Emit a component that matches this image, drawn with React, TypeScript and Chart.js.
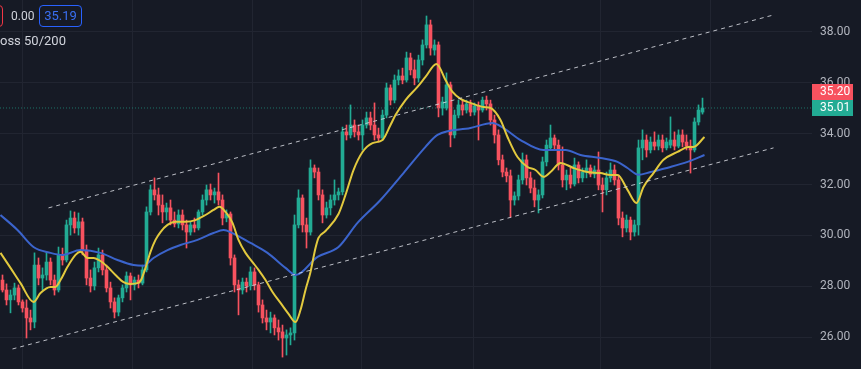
import React, { useEffect, useRef } from "react";
import { Chart, registerables } from "chart.js";

Chart.register(...registerables);

const opens = [
  28.24,27.85,27.46,27.65,27.93,27.38,27.14,26.75,26.59,28.83,
  28.32,28.44,28.95,28.24,27.85,29.23,29.03,30.41,30.68,30.29,
  30.53,29.42,28.32,28.01,28.72,29.23,28.64,27.93,27.38,26.98,
  27.54,27.93,28.40,28.05,28.24,28.12,28.64,30.92,31.79,31.59,
  31.19,30.92,31.08,30.60,30.45,30.80,30.41,30.13,30.41,30.29,
  30.92,31.39,31.79,31.59,31.71,31.39,30.68,30.84,29.11,28.05,
  27.85,28.16,28.01,28.56,28.05,27.26,26.75,26.59,26.75,26.36,
  26.20,25.96,26.08,26.16,30.41,31.47,30.41,30.13,32.65,32.49,
  31.59,30.80,31.08,31.39,31.59,31.71,34.07,33.95,34.34,34.07,
  33.95,34.34,34.62,34.34,33.95,33.83,34.73,35.80,35.32,36.11,
  36.27,36.11,36.98,36.51,36.19,36.90,37.49,38.28,37.29,37.49,
  35.01,35.01,35.92,33.95,34.73,35.13,34.93,35.17,34.85,35.09,
  34.93,35.32,35.17,34.54,33.95,32.97,32.49,32.34,31.39,31.55,
  32.18,32.97,32.26,31.86,31.39,31.59,32.89,33.44,33.83,33.55,
  32.77,32.18,32.37,32.02,32.77,32.26,32.49,32.65,32.41,32.57,
  31.98,31.79,32.26,32.57,32.18,30.68,30.29,30.60,30.13,30.41,
  33.44,33.75,33.36,33.67,33.51,33.75,33.44,33.55,33.75,33.51,
  33.95,33.67,33.51,33.36,34.46,34.85,
];

const highs = [
  28.44,28.09,27.85,28.12,28.05,27.46,27.46,27.06,29.31,29.11,
  28.72,29.35,29.11,28.44,29.54,29.50,30.60,30.96,30.92,30.88,
  30.68,29.62,28.64,28.95,29.50,29.42,28.83,28.16,27.54,27.65,
  28.05,28.56,28.52,28.36,28.44,28.83,31.12,31.98,32.26,31.86,
  31.59,31.27,31.39,30.92,31.00,31.00,30.60,30.53,30.68,31.00,
  31.59,31.98,32.02,31.86,32.45,31.59,31.00,30.92,29.23,28.24,
  28.32,28.32,28.76,28.72,28.16,27.46,27.06,26.98,26.87,26.67,
  26.47,26.28,26.36,30.80,31.79,31.59,30.68,32.97,32.77,32.65,
  31.79,31.31,31.59,32.18,31.86,34.26,34.34,35.13,34.54,34.34,
  34.54,34.85,34.85,35.21,34.22,34.93,35.99,35.92,36.31,36.51,
  36.58,37.21,37.17,36.90,37.09,37.69,38.63,38.47,37.69,37.61,
  35.44,36.39,36.03,34.93,35.32,35.32,35.32,35.32,35.21,35.25,
  35.44,35.48,35.32,34.73,34.15,33.16,32.65,32.57,31.71,32.37,
  33.24,33.16,32.49,32.18,31.79,33.08,33.75,34.34,33.95,33.75,
  33.48,32.57,32.65,33.04,32.89,32.65,32.97,32.77,32.73,33.28,
  32.26,32.49,32.85,32.77,32.37,30.92,30.80,30.72,30.60,33.75,
  34.15,33.95,33.87,34.07,33.95,33.95,33.83,34.66,34.07,34.15,
  34.15,33.95,33.75,34.62,35.13,35.40,
];

const lows = [
  27.77,27.26,26.95,27.46,27.26,26.98,25.96,26.28,26.36,28.05,
  27.85,28.24,28.05,27.65,27.77,28.83,28.95,30.01,30.09,30.01,
  29.23,28.05,27.77,27.85,28.56,28.44,27.77,27.14,26.75,26.83,
  27.38,27.77,27.46,27.85,27.93,28.05,28.56,30.80,31.39,30.80,
  30.49,30.60,30.41,30.33,30.29,30.21,29.50,30.01,30.13,30.21,
  30.80,31.19,31.39,31.27,31.19,30.41,30.53,28.83,27.77,26.87,
  27.69,27.77,27.85,27.85,26.98,26.55,26.28,26.16,26.08,25.88,
  25.21,25.29,25.69,25.88,30.29,30.13,29.50,30.01,32.26,31.39,
  30.49,30.68,30.80,31.19,31.39,31.59,33.75,33.83,33.87,33.75,
  33.36,34.22,34.15,33.75,33.67,33.75,34.62,35.13,35.21,35.92,
  35.96,36.03,36.31,35.92,36.03,36.70,37.37,37.09,37.09,34.66,
  34.73,34.93,33.48,33.83,34.62,34.73,34.81,34.70,34.73,33.75,
  34.85,34.93,34.34,33.63,32.77,32.30,32.10,30.72,31.19,31.39,
  32.02,31.98,31.67,31.12,30.88,31.47,32.73,33.36,33.36,32.57,
  31.90,31.79,31.86,31.94,32.06,32.10,32.26,32.30,32.26,31.79,
  30.92,31.59,32.10,31.98,30.41,29.94,30.13,29.82,29.97,30.01,
  32.97,33.08,33.24,33.36,33.36,33.28,33.36,33.44,33.36,33.44,
  33.48,33.36,32.45,33.28,34.34,34.77,
];

const closes = [
  27.85,27.46,27.65,27.93,27.38,27.14,26.75,26.59,28.83,28.32,
  28.44,28.95,28.24,27.85,29.23,29.03,30.41,30.68,30.29,30.53,
  29.42,28.32,28.01,28.72,29.23,28.64,27.93,27.38,26.98,27.54,
  27.93,28.40,28.05,28.24,28.12,28.64,30.92,31.79,31.59,31.19,
  30.92,31.08,30.60,30.45,30.80,30.41,30.13,30.41,30.29,30.92,
  31.39,31.79,31.59,31.71,31.39,30.68,30.84,29.11,28.05,27.85,
  28.16,28.01,28.56,28.05,27.26,26.75,26.59,26.75,26.36,26.20,
  25.96,26.08,26.16,30.41,31.47,30.41,30.13,32.65,32.49,31.59,
  30.80,31.08,31.39,31.59,31.71,34.07,33.95,34.34,34.07,33.95,
  34.34,34.62,34.34,33.95,33.83,34.73,35.80,35.32,36.11,36.27,
  36.11,36.98,36.51,36.19,36.90,37.49,38.28,37.37,37.49,35.01,
  35.25,35.92,33.95,34.73,35.13,34.93,35.17,34.85,35.09,34.93,
  35.32,35.17,34.54,33.95,32.97,32.49,32.34,31.39,31.55,32.18,
  32.97,32.26,31.86,31.39,31.59,32.89,33.55,33.83,33.55,32.77,
  32.18,32.37,32.02,32.77,32.26,32.49,32.65,32.41,32.57,31.98,
  31.79,32.26,32.57,32.18,30.68,30.29,30.60,30.13,30.41,33.44,
  33.75,33.36,33.67,33.51,33.75,33.44,33.67,33.75,33.51,33.95,
  33.67,33.51,33.36,34.46,34.93,35.01,
];

// Moving average 50 (yellow) sampled at bar positions
const ma50Index = [-0.5,2,4.5,7.75,9.5,12,13.25,14.5,16.25,18.25,19.5,21.25,22.75,24.5,26.25,28.25,30.25,32,33.75,34.5,35.75,37,38.25,39.5,41.25,43.25,45.75,48.25,50.75,52.75,54.25,55.75,57.5,59,60.75,62.5,64,65.75,67.5,69.5,71.5,73.25,74.5,75.75,77,78.25,79,80.75,84,85.75,87.75,90,92.5,95,97,98.25,100.75,103.75,105.75,108.5,110.75,112.5,114.5,117,120.25,122,124.5,126.25,128.75,131.25,133.25,135.25,137,139.5,142.75,146.25,149.5,152,153.75,156.25,158.5,160.25,162.75,165.25,168.75,171.5,172.75,175.5];
const ma50Values = [29.31,28.72,28.12,27.38,27.73,27.97,27.97,28.24,28.76,29.23,29.35,29.11,29.11,28.99,28.76,28.44,28.16,28.09,28.12,28.20,28.72,29.35,29.82,30.13,30.41,30.53,30.53,30.60,30.80,31.00,31.12,30.92,30.49,29.82,29.31,28.95,28.64,28.24,27.77,27.34,26.91,26.59,27.06,27.85,28.56,29.50,29.90,30.17,30.84,31.59,32.57,33.28,33.63,33.75,34.34,34.73,35.32,35.84,36.23,36.74,36.11,35.64,35.37,35.21,35.05,35.01,34.54,33.87,33.08,32.69,32.57,32.30,32.49,32.85,32.65,32.49,32.45,32.37,32.37,31.79,31.27,31.90,32.45,32.97,33.28,33.48,33.48,33.87];

// Moving average 200 (blue)
const ma200Index = [-0.5,3.75,7.75,12,15,19.5,24.5,28.75,32.75,35.25,37.75,41.25,44.5,48.75,52.75,55.25,57.5,62,66.25,70.75,73.25,78.75,84,88.75,94.5,100.25,105.75,108.75,117,122.5,125.25,129.5,135.25,140.75,144.5,149.5,153.75,156.25,159,162,167,171.25,175.5];
const ma200Values = [30.80,30.21,29.54,29.31,29.23,29.42,29.31,29.03,28.83,28.80,29.11,29.42,29.62,29.82,30.09,30.21,30.09,29.70,29.31,28.72,28.44,29.15,29.54,30.49,31.39,32.45,33.48,33.95,34.22,34.42,34.22,33.75,33.36,33.36,33.16,33.04,32.89,32.65,32.38,32.49,32.69,32.89,33.16];

// Trend channel end points [index, price]
const channelUpperX = [11.5, 192.75];
const channelUpperY = [31.08, 38.67];
const channelLowerX = [2.5, 192.75];
const channelLowerY = [25.53, 33.44];

const priceTicks = [26, 28, 30, 32, 34, 36, 38];
const timeGridAt = [18.75, 46.25, 78.75, 100.75, 134.75, 164.25, 189.75];

const lastPrice = 35.01;
const askPrice = 35.2;
const legendValue = "35.19";
const legendChange = "0.00";
const legendTitle = "oss 50/200";

const X_MIN = -0.625;
const X_MAX = 202.375;
const Y_MIN = 24.741;
const Y_MAX = 39.259;

const BG = "#161a25";
const GRID = "#212531";
const UP = "#22ab94";
const DOWN = "#f7525f";

export default function App() {
  const ref = useRef<HTMLCanvasElement>(null);

  useEffect(() => {
    if (!ref.current) return;
    const colors = closes.map((c, i) => (c >= opens[i] ? UP : DOWN));

    const bgPlugin = {
      id: "bg",
      beforeDraw(chart: any) {
        const { ctx, width, height } = chart;
        ctx.save();
        ctx.fillStyle = BG;
        ctx.fillRect(0, 0, width, height);
        ctx.restore();
      },
    };

    const tagPlugin = {
      id: "tags",
      afterDraw(chart: any) {
        const { ctx, chartArea } = chart;
        const ys = chart.scales.y;
        const yL = Math.round(ys.getPixelForValue(lastPrice));
        const x0 = chartArea.right;
        const w = 41;
        const h = 16;
        ctx.save();
        ctx.fillStyle = UP;
        ctx.fillRect(x0, yL - 8, w, h);
        ctx.fillStyle = DOWN;
        ctx.fillRect(x0, yL - 8 - h, w, h);
        ctx.font = "12px Roboto";
        ctx.fillStyle = "#ffffff";
        ctx.textBaseline = "middle";
        ctx.textAlign = "left";
        ctx.fillText(lastPrice.toFixed(2), x0 + 8, yL);
        ctx.fillText(askPrice.toFixed(2), x0 + 8, yL - h);
        ctx.restore();
      },
    };

    const chart = new Chart(ref.current, {
      type: "bar",
      data: {
        datasets: [
          {
            type: "line",
            label: "MA50",
            data: ma50Index.map((x, i) => ({ x, y: ma50Values[i] })),
            borderColor: "#e2c93e",
            borderWidth: 2,
            pointRadius: 0,
            cubicInterpolationMode: "monotone",
            order: 1,
          } as any,
          {
            type: "line",
            label: "MA200",
            data: ma200Index.map((x, i) => ({ x, y: ma200Values[i] })),
            borderColor: "#3b64cc",
            borderWidth: 2,
            pointRadius: 0,
            cubicInterpolationMode: "monotone",
            order: 2,
          } as any,
          {
            type: "line",
            label: "Upper",
            data: channelUpperX.map((x, i) => ({ x, y: channelUpperY[i] })),
            borderColor: "rgba(215,217,224,0.85)",
            borderWidth: 1,
            borderDash: [4, 4],
            pointRadius: 0,
            order: 0,
          } as any,
          {
            type: "line",
            label: "Lower",
            data: channelLowerX.map((x, i) => ({ x, y: channelLowerY[i] })),
            borderColor: "rgba(215,217,224,0.85)",
            borderWidth: 1,
            borderDash: [4, 4],
            pointRadius: 0,
            order: 0,
          } as any,
          {
            type: "line",
            label: "Last",
            data: [
              { x: X_MIN, y: lastPrice },
              { x: X_MAX, y: lastPrice },
            ],
            borderColor: "rgba(34,171,148,0.6)",
            borderWidth: 1,
            borderDash: [1, 2],
            pointRadius: 0,
            order: 3,
          } as any,
          {
            type: "bar",
            label: "Bodies",
            data: opens.map((o, i) => ({ x: i, y: [o, closes[i]] })),
            backgroundColor: colors,
            barThickness: 3,
            minBarLength: 1,
            grouped: false,
            order: 5,
          } as any,
          {
            type: "bar",
            label: "Wicks",
            data: lows.map((l, i) => ({ x: i, y: [l, highs[i]] })),
            backgroundColor: colors,
            barThickness: 1,
            grouped: false,
            order: 6,
          } as any,
        ],
      },
      options: {
        animation: false,
        responsive: true,
        maintainAspectRatio: false,
        layout: { padding: 0 },
        plugins: { legend: { display: false }, tooltip: { enabled: false } },
        scales: {
          x: {
            type: "linear",
            min: X_MIN,
            max: X_MAX,
            offset: false,
            grid: { color: GRID, drawTicks: false },
            border: { display: false },
            ticks: { display: false },
            afterBuildTicks: (s: any) => {
              s.ticks = timeGridAt.map((v) => ({ value: v }));
            },
            afterFit: (s: any) => {
              s.height = 0;
              s.paddingLeft = 0;
              s.paddingRight = 0;
            },
          },
          y: {
            type: "linear",
            position: "right",
            min: Y_MIN,
            max: Y_MAX,
            grid: { color: GRID, drawTicks: false },
            border: { display: false },
            ticks: {
              color: "#b2b5be",
              font: { family: "Roboto", size: 12 },
              padding: 8,
              callback: (v: any) => Number(v).toFixed(2),
            },
            afterBuildTicks: (s: any) => {
              s.ticks = priceTicks.map((v) => ({ value: v }));
            },
            afterFit: (s: any) => {
              s.width = 49;
              s.paddingTop = 0;
              s.paddingBottom = 0;
            },
          },
        },
      } as any,
      plugins: [bgPlugin, tagPlugin],
    });
    return () => chart.destroy();
  }, []);

  return (
    <div
      style={{
        position: "fixed",
        left: 0,
        top: 0,
        width: 861,
        height: 369,
        background: BG,
        overflow: "hidden",
      }}
    >
      <div style={{ position: "absolute", left: 0, top: 0, width: 861, height: 369 }}>
        <canvas ref={ref} />
      </div>
      <div
        style={{
          position: "absolute",
          left: -30,
          top: 5,
          width: 31,
          height: 20,
          border: "1px solid #f23645",
          borderRadius: 4,
        }}
      />
      <div
        style={{
          position: "absolute",
          left: 11,
          top: 5,
          height: 22,
          lineHeight: "22px",
          fontFamily: "Roboto",
          fontSize: 12,
          color: "#d1d4dc",
        }}
      >
        {legendChange}
      </div>
      <div
        style={{
          position: "absolute",
          left: 39,
          top: 5,
          width: 41,
          height: 20,
          border: "1px solid #2962ff",
          borderRadius: 4,
          color: "#3a6ff2",
          fontFamily: "Roboto",
          fontSize: 13,
          lineHeight: "20px",
          textAlign: "center",
        }}
      >
        {legendValue}
      </div>
      <div
        style={{
          position: "absolute",
          left: 0,
          top: 32,
          fontFamily: "Roboto",
          fontSize: 13,
          lineHeight: "18px",
          color: "#d1d4dc",
          whiteSpace: "nowrap",
        }}
      >
        {legendTitle}
      </div>
    </div>
  );
}
